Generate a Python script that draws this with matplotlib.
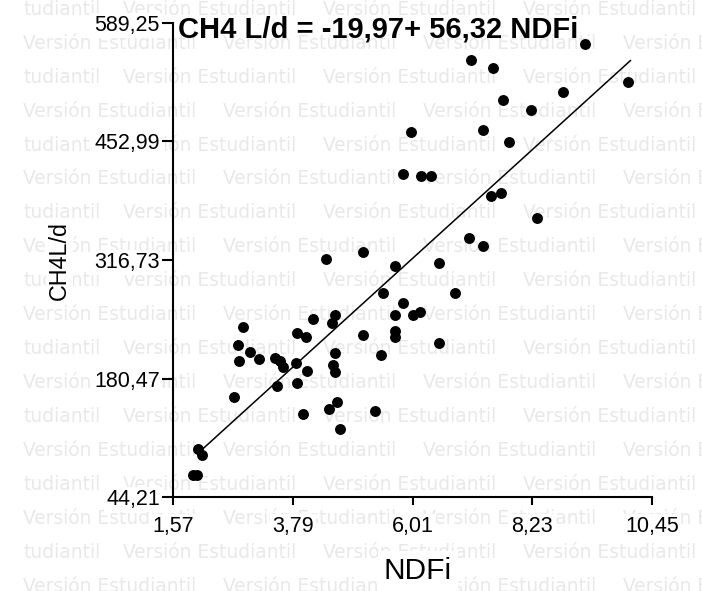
import numpy as np
from matplotlib import pyplot as plt
from matplotlib import font_manager

# ---------------------------------------
# datos (NDFi vs CH4 L/d)
# ---------------------------------------
ndfi = [9.21, 7.10, 7.50, 10.01, 8.80, 7.69, 8.21, 5.98, 7.32, 7.80,
        5.84, 6.17, 6.35, 7.47, 7.65, 8.32, 7.06, 7.32, 5.09, 5.69,
        6.50, 4.41, 5.46, 6.80, 5.84, 5.69, 6.02, 6.15, 5.09, 5.69,
        5.69, 6.50, 5.43, 5.32, 2.87, 4.17, 4.57, 4.52, 3.87, 4.04,
        2.78, 3.00, 2.79, 3.17, 3.46, 3.55, 3.61, 3.85, 4.06, 4.57,
        4.54, 4.57, 3.50, 3.87, 2.70, 3.98, 4.46, 4.61, 4.67, 2.03,
        2.11, 1.94, 2.02]
ch4 = [565.1, 546.7, 537.5, 521.4, 509.9, 500.7, 489.2, 463.9, 466.2, 452.4,
       415.6, 413.3, 413.3, 390.3, 393.8, 365.0, 342.0, 332.8, 325.9, 309.8,
       313.3, 317.9, 278.8, 278.8, 267.3, 253.5, 253.5, 256.9, 230.5, 235.1,
       228.2, 221.3, 207.5, 143.1, 239.7, 248.9, 253.5, 244.3, 232.8, 228.2,
       219.0, 210.9, 200.6, 202.9, 204.0, 200.6, 193.7, 198.3, 189.1, 209.8,
       196.0, 187.9, 171.8, 175.3, 159.2, 139.6, 145.4, 153.4, 122.4, 99.4,
       92.5, 69.5, 69.5]

# recta de regresion
b0 = -19.97
b1 = 56.32
x_recta = [2.12, 10.05]

x_ticks = [1.57, 3.79, 6.01, 8.23, 10.45]
x_labels = ['1,57', '3,79', '6,01', '8,23', '10,45']
y_ticks = [44.21, 180.47, 316.73, 452.99, 589.25]
y_labels = ['44,21', '180,47', '316,73', '452,99', '589,25']

titulo = 'CH4 L/d = -19,97+ 56,32 NDFi'
marca = 'Versión Estudiantil'
marca_corta = 'tudiantil'

# fuente angosta para los numeros si existe
nombres = {f.name for f in font_manager.fontManager.ttflist}
if 'Liberation Sans Narrow' in nombres:
    f_num, t_num = 'Liberation Sans Narrow', 18
else:
    f_num, t_num = 'Liberation Sans', 15.5
f_txt = 'Liberation Sans'

W, H = 702, 591
fig = plt.figure(figsize=(W / 100, H / 100), dpi=100)
ax = fig.add_axes([173 / W, 94 / H, 479 / W, 474 / H])
ax.patch.set_visible(False)

# marca de agua de fondo (filas alternadas)
estilo = dict(fontsize=13.4, family='DejaVu Sans', color='#e8e8e8',
              ha='left', va='baseline', zorder=-2)
for k in range(18):
    yb = 1 - (8 + 33.94 * k + 6.8) / H
    if k % 2 == 0:
        fig.text(23 / W, yb, marca_corta, **estilo)
        x0 = 123
    else:
        x0 = 23
    for j in range(4):
        fig.text((x0 + 200 * j) / W, yb, marca, **estilo)

# puntos y recta
ax.scatter(ndfi, ch4, s=62, color='black', linewidths=0, zorder=3, clip_on=False)
xr = np.array(x_recta)
ax.plot(xr, b0 + b1 * xr, color='black', lw=1.1, zorder=2)

ax.set_xlim(x_ticks[0], x_ticks[-1])
ax.set_ylim(y_ticks[0], y_ticks[-1])

caja = dict(facecolor='white', edgecolor='none', pad=1.5)
ax.set_xticks(x_ticks)
ax.set_xticklabels(x_labels, fontsize=t_num, family=f_num, bbox=caja)
ax.set_yticks(y_ticks)
ax.set_yticklabels(y_labels, fontsize=t_num, family=f_num, bbox=caja)
ax.tick_params(axis='x', direction='out', length=6, width=1.5, pad=8)
ax.tick_params(axis='y', direction='out', length=8, width=1.5, pad=1.5)

for lado in ['top', 'right']:
    ax.spines[lado].set_visible(False)
for lado in ['left', 'bottom']:
    ax.spines[lado].set_linewidth(1.5)

ax.set_xlabel('NDFi', fontsize=21.5, family=f_txt,
              bbox=dict(facecolor='white', edgecolor='none', pad=4))
ax.xaxis.set_label_coords(0.511, -0.1266)
ax.set_ylabel('CH4L/d', fontsize=16.8, family=f_txt,
              bbox=dict(facecolor='white', edgecolor='none', pad=1.5))
ax.yaxis.set_label_coords(-0.213, 0.499)

fig.text(177.5 / W, 1 - 37 / H, titulo, fontsize=21, fontweight='bold',
         family=f_txt, ha='left', va='baseline')

fig.savefig('out.png', dpi=100)
